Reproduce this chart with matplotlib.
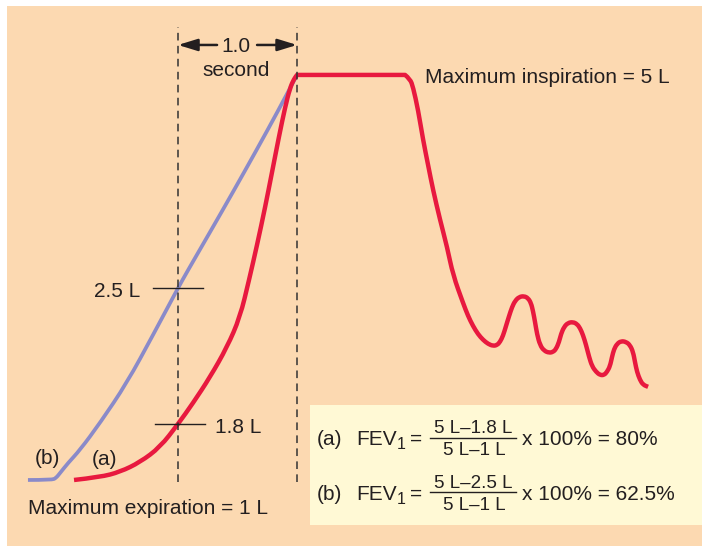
import matplotlib
matplotlib.use("Agg")
import matplotlib.pyplot as plt
from matplotlib.patches import Rectangle, PathPatch
from matplotlib.path import Path

plt.rcParams['font.family'] = ['Liberation Sans', 'DejaVu Sans']

# time in seconds (0 = start of first second), height 0 = max expiration, 1 = max inspiration
blue_t = [-1.261, -1.059, -1.025, -0.992, -0.924, -0.824, -0.655, -0.429, -0.210, 0.0,
          0.076, 0.269, 0.462, 0.655, 0.840, 1.0]
blue_v = [0.0, 0.0, 0.005, 0.017, 0.042, 0.074, 0.141, 0.240, 0.358, 0.474,
          0.514, 0.612, 0.711, 0.812, 0.911, 1.0]

# (a) forced expiration up to max inspiration
red_t = [-0.874, -0.655, -0.487, -0.319, -0.151, 0.0, 0.126, 0.269, 0.412, 0.521,
         0.597, 0.664, 0.731, 0.790, 0.849, 0.899, 0.941, 0.975, 1.0]
red_v = [0.0, 0.007, 0.020, 0.044, 0.081, 0.138, 0.190, 0.254, 0.328, 0.402,
         0.494, 0.580, 0.672, 0.760, 0.849, 0.919, 0.968, 0.990, 1.0]

# after the hold: fall back and tidal breaths
tidal_t = [1.908, 1.950, 1.975, 2.017, 2.059, 2.101, 2.143, 2.202, 2.261, 2.311,
           2.395, 2.437, 2.479, 2.521, 2.563, 2.605, 2.647, 2.681, 2.706, 2.731,
           2.756, 2.782, 2.807, 2.832, 2.866, 2.908, 2.941, 2.966, 2.983, 3.000,
           3.017, 3.042, 3.076, 3.118, 3.151, 3.176, 3.202, 3.218, 3.244, 3.277,
           3.319, 3.353, 3.378, 3.403, 3.429, 3.454, 3.479, 3.513, 3.546, 3.580,
           3.605, 3.630, 3.647, 3.664, 3.689, 3.723, 3.765, 3.798, 3.824, 3.840,
           3.857, 3.882, 3.908, 3.950]
tidal_v = [1.0, 0.990, 0.970, 0.914, 0.840, 0.778, 0.716, 0.642, 0.575, 0.506,
           0.437, 0.405, 0.380, 0.360, 0.346, 0.336, 0.331, 0.333, 0.341, 0.356,
           0.380, 0.405, 0.427, 0.442, 0.452, 0.454, 0.449, 0.437, 0.417, 0.390,
           0.360, 0.333, 0.319, 0.314, 0.316, 0.323, 0.341, 0.360, 0.378, 0.388,
           0.390, 0.385, 0.375, 0.358, 0.333, 0.304, 0.281, 0.267, 0.259, 0.259,
           0.267, 0.281, 0.304, 0.323, 0.336, 0.343, 0.341, 0.333, 0.316, 0.291,
           0.267, 0.247, 0.235, 0.230]

fev_labels = ['2.5 L', '1.8 L']
formula_a = ['(a)', '5 L\u20131.8 L', '5 L\u20131 L', 'x 100% = 80%']
formula_b = ['(b)', '5 L\u20132.5 L', '5 L\u20131 L', 'x 100% = 62.5%']

ink = '#231f20'
red = '#e8193f'
blue = '#8a8ac9'
peach = '#fcd9b1'

fig = plt.figure(figsize=(7.02, 5.46), dpi=100, facecolor=peach)
ax = fig.add_axes([0, 0, 1, 1])
ax.set_xlim(-1.496, 4.403)
ax.set_ylim(-0.163, 1.185)
ax.axis('off')

# white margin on the left and top
fig.patches.append(Rectangle((0, 0), 7 / 702, 1, transform=fig.transFigure,
                             facecolor='white', edgecolor='none', zorder=-1))
fig.patches.append(Rectangle((0, 1 - 6 / 546), 1, 6 / 546, transform=fig.transFigure,
                             facecolor='white', edgecolor='none', zorder=-1))


def at(x, y):
    # pixel position -> axes fraction
    return x / 702, 1 - y / 546


def smooth(xs, ys, first=True):
    # quadratic bezier through midpoints, points used as control points
    verts = [(xs[0], ys[0])]
    codes = [Path.MOVETO if first else Path.LINETO]
    for i in range(1, len(xs) - 1):
        verts += [(xs[i], ys[i]), ((xs[i] + xs[i + 1]) / 2, (ys[i] + ys[i + 1]) / 2)]
        codes += [Path.CURVE3, Path.CURVE3]
    verts.append((xs[-1], ys[-1]))
    codes.append(Path.LINETO)
    return verts, codes


ax.add_patch(Rectangle(at(310, 525), (702 - 310) / 702, 120 / 546, transform=ax.transAxes,
                       facecolor='#fff9d5', edgecolor='none', zorder=1))

# curves
bv, bc = smooth(blue_t, blue_v)
ax.add_patch(PathPatch(Path(bv, bc), facecolor='none', edgecolor=blue, lw=2.7,
                       joinstyle='round', capstyle='butt', zorder=3))
rv, rc = smooth(red_t, red_v)
tv, tc = smooth(tidal_t, tidal_v, first=False)
ax.add_patch(PathPatch(Path(rv + tv, rc + tc), facecolor='none', edgecolor=red, lw=3.2,
                       joinstyle='round', capstyle='butt', zorder=3))

# dashed one-second markers
for t in [0.0, 1.0]:
    ax.plot([t, t], [-0.005, 1.119], color='#333333', lw=1.1, ls=(0, (5, 3.5)), zorder=4)

# FEV1 ticks
b_mark = blue_v[blue_t.index(0.0)]
r_mark = red_v[red_t.index(0.0)]
ax.plot([-0.210, 0.210], [b_mark, b_mark], color=ink, lw=1.0, zorder=5)
ax.plot([-0.193, 0.227], [r_mark, r_mark], color=ink, lw=1.0, zorder=5)
ax.text(-0.319, b_mark - 0.023, fev_labels[0], ha='right', va='baseline', fontsize=15, color=ink)
ax.text(0.311, r_mark - 0.021, fev_labels[1], ha='left', va='baseline', fontsize=15, color=ink)

# 1.0 second arrow
arr = dict(arrowstyle='-|>,head_length=0.65,head_width=0.2', mutation_scale=18,
           color=ink, lw=1.8, shrinkA=0, shrinkB=0)
ax.annotate('', xy=(0.0, 1.074), xytext=(0.328, 1.074), arrowprops=arr)
ax.annotate('', xy=(1.0, 1.074), xytext=(0.664, 1.074), arrowprops=arr)
ax.text(0.487, 1.057, '1.0', ha='center', va='baseline', fontsize=15, color=ink)
ax.text(0.487, 0.998, 'second', ha='center', va='baseline', fontsize=15, color=ink)

ax.text(2.076, 0.980, 'Maximum inspiration = 5 L', ha='left', va='baseline', fontsize=15, color=ink)
ax.text(-1.261, -0.084, 'Maximum expiration = 1 L', ha='left', va='baseline', fontsize=15, color=ink)
ax.text(-1.202, 0.040, '(b)', ha='left', va='baseline', fontsize=15, color=ink)
ax.text(-0.723, 0.037, '(a)', ha='left', va='baseline', fontsize=15, color=ink)

# FEV1 formulas
for parts, base, bar in [(formula_a, 445, 437.5), (formula_b, 500, 492)]:
    ax.text(*at(317, base), parts[0], transform=ax.transAxes, ha='left', va='baseline', fontsize=15, color=ink)
    ax.text(*at(356, base), 'FEV', transform=ax.transAxes, ha='left', va='baseline', fontsize=15, color=ink)
    ax.text(*at(397, base + 4), '1', transform=ax.transAxes, ha='left', va='baseline', fontsize=11.5, color=ink)
    ax.text(*at(416, base), '=', transform=ax.transAxes, ha='center', va='baseline', fontsize=15, color=ink)
    ax.text(*at(473, bar - 4.5), parts[1], transform=ax.transAxes, ha='center', va='baseline', fontsize=13.5, color=ink)
    ax.plot([430 / 702, 516 / 702], [1 - bar / 546] * 2, transform=ax.transAxes, color=ink, lw=1.0)
    ax.text(*at(474, bar + 17.5), parts[2], transform=ax.transAxes, ha='center', va='baseline', fontsize=13.5, color=ink)
    ax.text(*at(522, base), parts[3], transform=ax.transAxes, ha='left', va='baseline', fontsize=15, color=ink)

fig.savefig('out.png', dpi=100, facecolor=peach)
